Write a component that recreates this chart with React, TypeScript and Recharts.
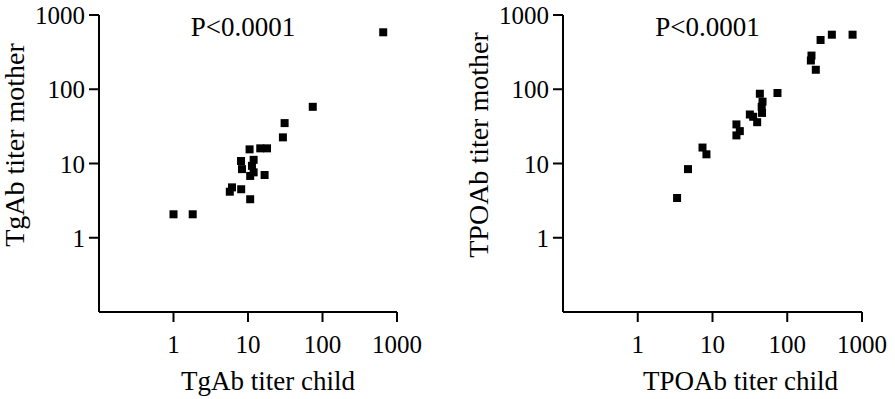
import React from 'react';
import { ScatterChart, Scatter, XAxis, YAxis, Label } from 'recharts';

// TgAb titers (child vs mother)
const tgChild = [653, 74, 31, 29.4, 18, 14.6, 10.5, 8.06, 11.9, 8.3, 11.3, 11.9, 10.7, 16.7, 8.1, 6.1, 5.7, 10.7, 1.0, 1.81];
const tgMother = [585, 58, 35, 22.5, 16, 16, 15.5, 10.8, 11.2, 8.4, 9.3, 7.6, 6.8, 7.0, 4.5, 4.77, 4.17, 3.3, 2.07, 2.07];

// TPOAb titers (child vs mother)
const tpoChild = [3.36, 4.7, 7.35, 8.3, 20.9, 23.2, 20.9, 31.6, 35, 39.6, 43, 46.7, 45.5, 46, 74, 211, 207, 241, 279, 395, 748];
const tpoMother = [3.43, 8.4, 16.4, 13.3, 33.6, 27.3, 23.9, 45.7, 42.6, 36, 87, 68, 58, 48, 89, 284, 244, 183, 461, 543, 543];

const logTicks = [1, 10, 100, 1000];
const pLabel = 'P<0.0001';

const FONT = '"Liberation Serif", "Times New Roman", serif';

const zip = (xs: number[], ys: number[]) => xs.map((x, i) => ({ x, y: ys[i] }));

const Square = (props: any) => (
  <rect x={props.cx - 4} y={props.cy - 4} width={8} height={8} fill="#000" />
);

const XTick = ({ x, y, payload }: any) => (
  <text x={x} y={y} dy={18} textAnchor="middle" fontSize={25} fontFamily={FONT} fill="#000">
    {payload.value}
  </text>
);

const YTick = ({ x, y, payload }: any) => (
  <text x={x} y={y} dy={9} textAnchor="end" fontSize={25} fontFamily={FONT} fill="#000">
    {payload.value}
  </text>
);

interface PanelProps {
  data: { x: number; y: number }[];
  xTitle: string;
  yTitle: string;
  width: number;
  yAxisWidth: number;
  rightMargin: number;
  yTitleX: number;
  xTitleShift: number;
}

const Panel: React.FC<PanelProps> = ({
  data,
  xTitle,
  yTitle,
  width,
  yAxisWidth,
  rightMargin,
  yTitleX,
  xTitleShift,
}) => {
  const plotLeft = yAxisWidth;
  const plotRight = width - rightMargin;
  const plotMid = (plotLeft + plotRight) / 2;

  return (
    <ScatterChart
      width={width}
      height={399}
      margin={{ top: 15, right: rightMargin, bottom: 0, left: 0 }}
    >
      <XAxis
        dataKey="x"
        type="number"
        scale="log"
        domain={[0.1, 1000]}
        allowDataOverflow
        ticks={logTicks}
        height={87}
        axisLine={{ stroke: '#000', strokeWidth: 2 }}
        tickLine={{ stroke: '#000', strokeWidth: 2 }}
        tickSize={10}
        tickMargin={13}
        tick={<XTick />}
      >
        <Label
          content={() => (
            <text
              x={plotMid + xTitleShift}
              y={390}
              textAnchor="middle"
              fontSize={27}
              fontFamily={FONT}
              fill="#000"
            >
              {xTitle}
            </text>
          )}
        />
      </XAxis>
      <YAxis
        dataKey="y"
        type="number"
        scale="log"
        domain={[0.1, 1000]}
        allowDataOverflow
        ticks={logTicks}
        width={yAxisWidth}
        axisLine={{ stroke: '#000', strokeWidth: 2 }}
        tickLine={{ stroke: '#000', strokeWidth: 2 }}
        tickSize={10}
        tickMargin={4}
        tick={<YTick />}
      >
        <Label
          content={() => (
            <text
              x={yTitleX}
              y={145}
              transform={`rotate(-90, ${yTitleX}, 145)`}
              textAnchor="middle"
              fontSize={28}
              fontFamily={FONT}
              fill="#000"
            >
              {yTitle}
            </text>
          )}
        />
      </YAxis>
      <text
        x={plotMid - 5}
        y={36}
        textAnchor="middle"
        fontSize={27}
        fontFamily={FONT}
        fill="#000"
      >
        {pLabel}
      </text>
      <Scatter data={data} shape={Square} isAnimationActive={false} />
    </ScatterChart>
  );
};

export default function App() {
  return (
    <div
      style={{
        position: 'absolute',
        left: 0,
        top: 0,
        width: 895,
        height: 399,
        background: '#fff',
      }}
    >
      <div style={{ position: 'absolute', left: 0, top: 0 }}>
        <Panel
          data={zip(tgChild, tgMother)}
          xTitle="TgAb titer child"
          yTitle="TgAb titer mother"
          width={450}
          yAxisWidth={99}
          rightMargin={53}
          yTitleX={24}
          xTitleShift={20}
        />
      </div>
      <div style={{ position: 'absolute', left: 450, top: 0 }}>
        <Panel
          data={zip(tpoChild, tpoMother)}
          xTitle="TPOAb titer child"
          yTitle="TPOAb titer mother"
          width={445}
          yAxisWidth={113}
          rightMargin={33}
          yTitleX={38}
          xTitleShift={28}
        />
      </div>
    </div>
  );
}
